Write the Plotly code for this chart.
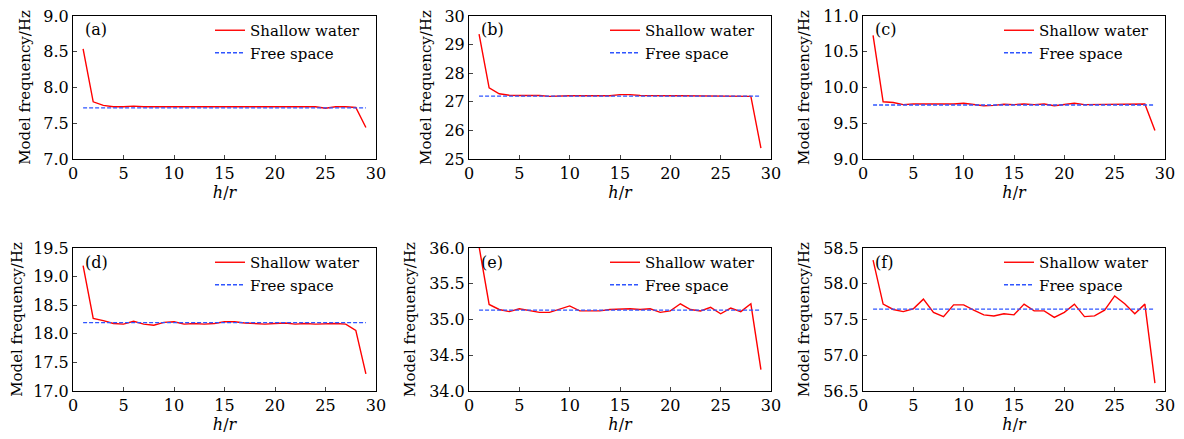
import plotly.graph_objects as go

h_r = list(range(1, 30))

shallow_a = [8.54, 7.80, 7.75, 7.73, 7.73, 7.74, 7.73, 7.73, 7.73, 7.73, 7.73, 7.73, 7.73, 7.73, 7.73,
             7.73, 7.73, 7.73, 7.73, 7.73, 7.74, 7.73, 7.73, 7.73, 7.71, 7.73, 7.73, 7.72, 7.44]
free_a = 7.715

shallow_b = [29.37, 27.49, 27.28, 27.23, 27.22, 27.22, 27.22, 27.19, 27.21, 27.21, 27.21, 27.21, 27.21, 27.21, 27.25,
             27.25, 27.22, 27.21, 27.21, 27.21, 27.21, 27.21, 27.21, 27.21, 27.21, 27.21, 27.20, 27.19, 25.38]
free_b = 27.2

shallow_c = [10.73, 9.80, 9.79, 9.76, 9.77, 9.77, 9.77, 9.76, 9.77, 9.78, 9.76, 9.745, 9.75, 9.765, 9.76,
             9.77, 9.76, 9.77, 9.745, 9.76, 9.78, 9.76, 9.76, 9.76, 9.77, 9.77, 9.76, 9.77, 9.40]
free_c = 9.755

shallow_d = [19.19, 18.27, 18.23, 18.18, 18.17, 18.22, 18.17, 18.15, 18.20, 18.21, 18.17, 18.18, 18.17, 18.18, 18.21,
             18.21, 18.19, 18.18, 18.17, 18.18, 18.19, 18.17, 18.18, 18.17, 18.18, 18.18, 18.17, 18.06, 17.30]
free_d = 18.195

shallow_e = [36.02, 35.21, 35.14, 35.11, 35.15, 35.13, 35.10, 35.10, 35.15, 35.19, 35.12, 35.12, 35.12, 35.14, 35.15,
             35.15, 35.14, 35.15, 35.10, 35.12, 35.22, 35.14, 35.12, 35.17, 35.08, 35.16, 35.11, 35.22, 34.30]
free_e = 35.13

shallow_f = [58.33, 57.715, 57.64, 57.61, 57.65, 57.785, 57.60, 57.54, 57.705, 57.705, 57.63, 57.565, 57.55, 57.58, 57.565,
             57.715, 57.62, 57.62, 57.53, 57.60, 57.715, 57.54, 57.55, 57.63, 57.83, 57.72, 57.58, 57.715, 56.61]
free_f = 57.645

panels = [
    ("(a)", shallow_a, free_a, [7.0, 9.0], 0.5, ".1f"),
    ("(b)", shallow_b, free_b, [25, 30], 1, "d"),
    ("(c)", shallow_c, free_c, [9.0, 11.0], 0.5, ".1f"),
    ("(d)", shallow_d, free_d, [17.0, 19.5], 0.5, ".1f"),
    ("(e)", shallow_e, free_e, [34.0, 36.0], 0.5, ".1f"),
    ("(f)", shallow_f, free_f, [56.5, 58.5], 0.5, ".1f"),
]

W, H = 1184, 439
OFF = 8  # page body margin of the default html
x_px = [(73 - OFF, 376 - OFF), (469 - OFF, 771 - OFF), (863 - OFF, 1165 - OFF)]
y_px = [(16 - OFF, 159 - OFF), (248 - OFF, 391 - OFF)]

FONT = "DejaVu Serif"
FS = 16
fig = go.Figure()
layout = dict(width=W, height=H, margin=dict(l=0, r=0, t=0, b=0, autoexpand=False),
              paper_bgcolor="white", plot_bgcolor="white",
              font=dict(family=FONT, size=FS, color="black"), showlegend=True)

for i, (lab, sh, fr, yr, dt, fmt) in enumerate(panels):
    row, col = divmod(i, 3)
    n = i + 1
    xa = "x" if n == 1 else f"x{n}"
    ya = "y" if n == 1 else f"y{n}"
    leg = "legend" if n == 1 else f"legend{n}"
    x0, x1 = x_px[col]
    y0, y1 = y_px[row]
    dx = [x0 / W, x1 / W]
    dy = [1 - y1 / H, 1 - y0 / H]
    fig.add_trace(go.Scatter(x=h_r, y=sh, mode="lines", name="Shallow water",
                             line=dict(color="#ff0000", width=1.4),
                             xaxis=xa, yaxis=ya, legend=leg))
    fig.add_trace(go.Scatter(x=h_r, y=[fr] * len(h_r), mode="lines", name="Free space",
                             line=dict(color="#2f55ff", width=1.3, dash="4px,2px"),
                             xaxis=xa, yaxis=ya, legend=leg))
    axx = dict(domain=dx, range=[0, 30], dtick=5, tick0=0, ticks="inside", ticklen=4,
               showline=True, linecolor="black", linewidth=1, mirror=True, showgrid=False,
               zeroline=False, anchor=ya, automargin=False, ticklabeloverflow="allow",
               tickfont=dict(family=FONT, size=FS),
               title=dict(text="<i>h</i>/<i>r</i>", font=dict(family=FONT, size=FS), standoff=2))
    axy = dict(domain=dy, range=yr, dtick=dt, tick0=yr[0], ticks="inside", ticklen=4,
               showline=True, linecolor="black", linewidth=1, mirror=True, showgrid=False,
               zeroline=False, anchor=xa, automargin=False, tickformat=fmt,
               ticklabeloverflow="allow", tickfont=dict(family=FONT, size=FS),
               title=dict(text="Model frequency/Hz", font=dict(family=FONT, size=15), standoff=9))
    layout["xaxis" if n == 1 else f"xaxis{n}"] = axx
    layout["yaxis" if n == 1 else f"yaxis{n}"] = axy
    layout[leg] = dict(x=(x1 - 11) / W, xanchor="right", y=1 - (y0 - 2) / H, yanchor="top",
                       bgcolor="rgba(0,0,0,0)", borderwidth=0, font=dict(family=FONT, size=15),
                       tracegroupgap=0, itemwidth=30)
    fig.add_annotation(text=lab, x=(x0 + 10) / W, y=1 - (y0 + 14) / H, xref="paper", yref="paper",
                       xanchor="left", yanchor="middle", showarrow=False,
                       font=dict(family=FONT, size=FS))

fig.update_layout(**layout)
fig.write_html("out.html")
